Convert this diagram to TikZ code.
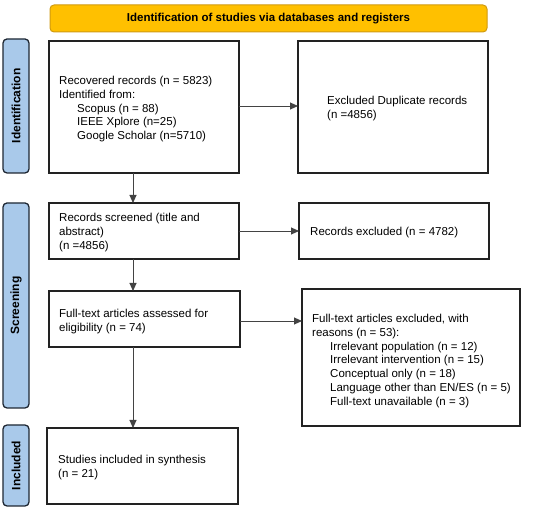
\documentclass[tikz,border=0pt]{standalone}
\usepackage{fontspec}
\setmainfont{Liberation Sans}
\usetikzlibrary{arrows.meta}
\definecolor{titlefill}{HTML}{FFC000}
\definecolor{titledraw}{HTML}{D09A10}
\definecolor{sidefill}{HTML}{A9C9EA}
\definecolor{sidedraw}{HTML}{1E2733}
\definecolor{boxdraw}{HTML}{222222}
\begin{document}
\begin{tikzpicture}[x=1pt,y=-1pt,
  box/.style={draw=boxdraw,line width=1.3pt,fill=white},
  sidebar/.style={draw=sidedraw,line width=1.3pt,fill=sidefill,rounded corners=4pt},
  titlebar/.style={draw=titledraw,line width=1pt,fill=titlefill,rounded corners=4pt},
  txt/.style={anchor=north west,inner sep=0pt,align=left,font=\fontsize{11.5}{13.8}\selectfont},
  lbl/.style={rotate=90,font=\fontsize{12}{14}\selectfont\bfseries},
  conn/.style={draw=boxdraw!85,line width=0.9pt,-{Triangle[length=8pt,width=7pt]}}]
\useasboundingbox (0,0) rectangle (550,510);
% title
\draw[titlebar] (50,5) rectangle (487,32);
\node[font=\fontsize{11.5}{13}\selectfont\bfseries] (title) at (268.5,18.5) {Identification of studies via databases and registers};
% side bars
\draw[sidebar] (3,39) rectangle (29,173);
\node[lbl] (lid) at (16,106) {Identification};
\draw[sidebar] (3,203) rectangle (29,408);
\node[lbl] (lsc) at (16,305.5) {Screening};
\draw[sidebar] (3,425) rectangle (29,506);
\node[lbl] (lin) at (16,465.5) {Included};
% boxes
\draw[box] (49,41) rectangle (239,173);
\draw[box] (298,41) rectangle (488,173);
\draw[box] (49,203) rectangle (239,259);
\draw[box] (299,203) rectangle (489,259);
\draw[box] (49,291) rectangle (240,347);
\draw[box] (302,289) rectangle (520,426);
\draw[box] (47,428) rectangle (238,504);
% texts
\node[txt] (t1) at (59,76) {Recovered records (n = 5823)\\Identified from:\\\hspace{18pt}Scopus (n = 88)\\\hspace{18pt}IEEE Xplore (n=25)\\\hspace{18pt}Google Scholar (n=5710)};
\node[txt] (t2) at (327,96) {Excluded Duplicate records\\(n =4856)};
\node[txt] (t3) at (59,213) {Records screened (title and\\abstract)\\(n =4856)};
\node[txt] (t4) at (310,227) {Records excluded (n = 4782)};
\node[txt] (t5) at (59,309) {Full-text articles assessed for\\eligibility (n = 74)};
\node[txt] (t6) at (312,314) {Full-text articles excluded, with\\reasons (n = 53):\\\hspace{18pt}Irrelevant population (n = 12)\\\hspace{18pt}Irrelevant intervention (n = 15)\\\hspace{18pt}Conceptual only (n = 18)\\\hspace{18pt}Language other than EN/ES (n = 5)\\\hspace{18pt}Full-text unavailable (n = 3)};
\node[txt] (t7) at (58,455) {Studies included in synthesis\\(n = 21)};
% named anchors for connectors
\coordinate (r1) at (239,106); \coordinate (l2) at (298,106);
\coordinate (d1) at (133,173); \coordinate (u3) at (133,203);
\coordinate (r3) at (239,231); \coordinate (l4) at (299,231);
\coordinate (d3) at (133,259); \coordinate (u5) at (133,291);
\coordinate (r5) at (240,321); \coordinate (l6) at (302,321);
\coordinate (d5) at (133,347); \coordinate (u7) at (133,428);
\draw[conn] (r1) -- (l2);
\draw[conn] (d1) -- (u3);
\draw[conn] (r3) -- (l4);
\draw[conn] (d3) -- (u5);
\draw[conn] (r5) -- (l6);
\draw[conn] (d5) -- (u7);
\end{tikzpicture}
\end{document}
